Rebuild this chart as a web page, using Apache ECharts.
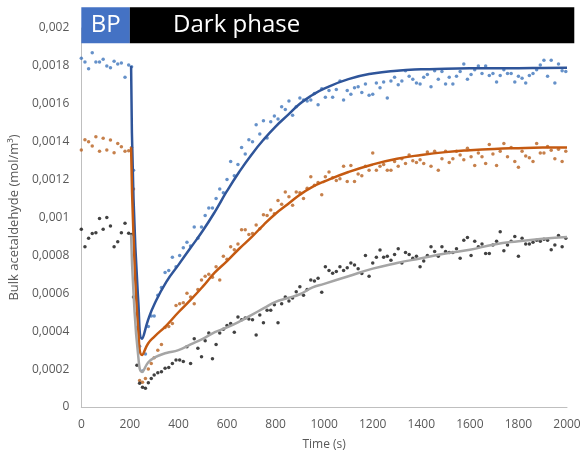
<!DOCTYPE html>
<html><head><meta charset="utf-8">
<script src="https://cdn.jsdelivr.net/npm/echarts@6/dist/echarts.min.js"></script>
<style>html,body{margin:0;padding:0;background:#fff}#c{width:584px;height:459px}</style>
</head><body><div id="c"></div>
<script>
// values in units of 1e-4 mol/m3
function range(a, b, s) { const r = []; for (let t = a; t <= b; t += s) r.push(t); return r; }
const baseTimes = range(0, 195, 15);
const dropTimes = [207, 215, 229, 240, 252, 264, 276, 288];
const darkTimes = range(300, 1995, 15);
const sampleTimes = baseTimes.concat(dropTimes, darkTimes);

const blueBase = [18.4, 18.2, 17.85, 18.7, 18.2, 18.2, 18.35, 18.0, 17.9, 18.25, 18.1, 18.15, 17.4, 18.05];
const blueDrop = [17.95, 12.5, 4.2, 3.2, 1.9, 2.8, 4.25, 4.8];
const blueDark = [
  4.8, 5.9, 6.3, 7.1, 7.2, 7.9, 7.4, 8.0, 8.4, 8.7,
  8.5, 9.5, 8.9, 9.5, 10.1, 10.5, 10.5, 11.0, 11.5, 11.3,
  12.0, 12.95, 12.2, 12.8, 13.7, 13.35, 14.1, 14.0, 14.9, 14.4,
  15.1, 14.2, 15.05, 15.35, 15.2, 15.85, 15.7, 16.15, 15.4, 15.85,
  16.3, 16.2, 16.15, 16.2, 16.55, 15.95, 16.8, 16.35, 16.7, 16.35,
  16.75, 17.2, 16.2, 16.7, 16.5, 16.85, 16.9, 16.6, 17.05, 16.45,
  16.5, 17.1, 16.85, 17.15, 16.3, 17.2, 17.4, 17.0, 17.2, 17.75,
  17.45, 17.3, 17.1, 17.05, 17.4, 17.55, 16.9, 17.75, 17.3, 17.7,
  17.05, 17.4, 17.05, 17.45, 17.7, 18.1, 17.3, 17.55, 17.8, 18.0,
  17.6, 18.0, 17.5, 17.6, 17.15, 17.5, 17.8, 17.6, 17.6, 17.15,
  17.45, 17.35, 17.1, 17.5, 17.6, 17.8, 18.05, 18.3, 17.45, 18.3,
  17.1, 18.1, 17.75, 17.7
];

const orangeBase = [13.56, 14.1, 14.0, 13.77, 14.26, 13.5, 14.18, 13.56, 14.09, 13.42, 13.91, 13.74, 13.5, 13.52];
const orangeDrop = [13.7, 11.5, 4.95, 1.4, 1.3, 1.5, 2.0, 2.3];
const orangeDark = [
  2.6, 3.0, 3.3, 4.2, 4.25, 4.4, 5.35, 5.45, 5.5, 6.0,
  5.8, 5.45, 6.2, 6.7, 6.9, 7.0, 6.85, 7.4, 6.7, 7.95,
  7.8, 8.45, 8.3, 8.6, 9.35, 9.35, 9.1, 9.15, 9.6, 9.4,
  10.15, 10.1, 10.4, 10.2, 10.9, 10.7, 11.35, 11.1, 10.65, 11.35,
  11.3, 11.0, 11.55, 12.15, 11.7, 11.85, 11.2, 12.15, 12.4, 12.1,
  11.95, 12.05, 12.7, 11.9, 12.75, 11.9, 12.3, 12.2, 12.7, 12.5,
  13.4, 12.5, 12.7, 12.8, 12.5, 12.5, 12.95, 12.7, 13.1, 12.85,
  13.3, 13.0, 12.9, 13.05, 12.85, 13.45, 12.7, 13.5, 12.5, 13.1,
  13.5, 12.9, 13.1, 13.5, 13.3, 13.05, 13.65, 13.2, 12.75, 13.4,
  13.2, 12.85, 13.85, 13.35, 12.75, 13.5, 13.9, 13.2, 13.7, 12.95,
  12.65, 13.5, 13.25, 13.15, 12.95, 13.9, 13.4, 13.4, 13.75, 13.55,
  13.1, 13.6, 12.95, 13.5
];

const blackBase = [9.38, 8.46, 8.9, 9.15, 9.2, 9.95, 9.38, 10.0, 9.55, 8.45, 8.72, 9.2, 9.7, 9.17];
const blackDrop = [9.1, 5.8, 2.2, 1.25, 1.04, 0.99, 1.28, 1.51];
const blackDark = [
  1.69, 1.81, 1.86, 2.04, 2.09, 2.3, 2.48, 2.48, 2.4, 3.18,
  2.3, 3.6, 3.1, 2.65, 3.5, 3.9, 2.55, 3.3, 3.9, 4.1,
  4.3, 4.4, 3.95, 4.75, 4.6, 4.7, 4.65, 4.6, 3.8, 4.85,
  4.45, 5.1, 5.1, 5.4, 4.45, 5.45, 5.8, 5.6, 5.75, 6.08,
  6.35, 5.9, 6.2, 6.7, 6.65, 6.8, 6.05, 7.4, 7.2, 7.06,
  7.15, 7.4, 7.2, 7.35, 7.6, 7.5, 7.3, 7.05, 8.0, 6.9,
  7.6, 7.9, 8.28, 7.9, 7.95, 7.75, 8.05, 8.35, 7.6, 8.15,
  8.05, 7.85, 7.95, 7.4, 7.7, 8.0, 8.45, 8.2, 7.95, 8.45,
  8.2, 8.15, 8.15, 8.35, 7.85, 8.8, 8.95, 8.0, 8.75, 8.45,
  8.6, 8.1, 8.1, 8.55, 8.75, 9.25, 8.25, 8.55, 8.75, 9.0,
  7.95, 8.9, 8.6, 8.6, 8.7, 8.8, 8.75, 8.85, 8.8, 8.3,
  8.55, 9.05, 8.45, 8.9
];

const fitTimes = [205, 215, 235, 250, 275, 300, 350, 400, 450, 500, 550, 600, 650, 700, 750, 800, 850, 900, 950, 1000, 1100, 1200, 1300, 1400, 1500, 1600, 1700, 1800, 1900, 2000];
const blueFit   = [18.0, 11.0, 5.5, 3.6, 4.6, 5.4, 6.6, 7.5, 8.4, 9.3, 10.3, 11.4, 12.4, 13.3, 14.1, 14.8, 15.4, 16.0, 16.45, 16.8, 17.3, 17.6, 17.75, 17.82, 17.85, 17.87, 17.88, 17.88, 17.89, 17.9];
const orangeFit = [13.7, 9.0, 4.0, 2.75, 3.35, 3.7, 4.3, 5.0, 5.65, 6.35, 7.1, 7.7, 8.35, 8.95, 9.6, 10.2, 10.7, 11.2, 11.6, 11.9, 12.4, 12.8, 13.1, 13.3, 13.45, 13.55, 13.62, 13.66, 13.69, 13.7];
const grayFit   = [9.1, 6.0, 2.6, 1.85, 2.35, 2.6, 2.85, 3.0, 3.3, 3.6, 3.95, 4.2, 4.5, 4.85, 5.2, 5.55, 5.75, 5.95, 6.3, 6.5, 6.9, 7.3, 7.6, 7.85, 8.1, 8.3, 8.58, 8.75, 8.88, 8.97];

const yTickLabels = ['0', '0,0002', '0,0004', '0,0006', '0,0008', '0,001', '0,0012', '0,0014', '0,0016', '0,0018', '0,002'];
const xTickLabels = ['0', '200', '400', '600', '800', '1000', '1200', '1400', '1600', '1800', '2000'];

const headerX = [0, 200, 2030];
const headerY = [19.2, 21.1];
const headerTexts = ['BP', 'Dark phase'];
const darkTextX = 378;

function zip(t, v) { return v.map((y, i) => [t[i], y]); }
const blueDots = zip(sampleTimes, blueBase.concat(blueDrop, blueDark));
const orangeDots = zip(sampleTimes, orangeBase.concat(orangeDrop, orangeDark));
const blackDots = zip(sampleTimes, blackBase.concat(blackDrop, blackDark));

const FONT = 'Open Sans';
const chart = echarts.init(document.getElementById('c'), null, { renderer: 'canvas' });
chart.setOption({
  animation: false,
  backgroundColor: '#fff',
  grid: { left: 81, right: 17, top: 28, bottom: 52 },
  xAxis: {
    type: 'value', min: 0, max: 2000, interval: 200,
    name: 'Time (s)', nameLocation: 'middle', nameGap: 32,
    nameTextStyle: { color: '#595959', fontSize: 12, fontFamily: FONT },
    axisLine: { lineStyle: { color: '#bfbfbf', width: 1 } },
    axisTick: { show: false }, splitLine: { show: false },
    axisLabel: { color: '#595959', fontSize: 12, fontFamily: FONT, margin: 12,
      formatter: v => xTickLabels[Math.round(v / 200)] }
  },
  yAxis: {
    type: 'value', min: 0, max: 20, interval: 2,
    name: 'Bulk acetaldehyde (mol/m³)', nameLocation: 'middle', nameGap: 55,
    nameTextStyle: { color: '#595959', fontSize: 13, fontFamily: FONT },
    axisLine: { show: true, lineStyle: { color: '#bfbfbf', width: 1 } },
    axisTick: { show: false }, splitLine: { show: false },
    axisLabel: { color: '#595959', fontSize: 12, fontFamily: FONT, margin: 12,
      formatter: v => yTickLabels[Math.round(v / 2)] }
  },
  series: [
    { type: 'scatter', data: blueDots, symbolSize: 3.5, itemStyle: { color: '#3F75BC' }, z: 2 },
    { type: 'scatter', data: orangeDots, symbolSize: 3.5, itemStyle: { color: '#B8601E' }, z: 2 },
    { type: 'scatter', data: blackDots, symbolSize: 3.5, itemStyle: { color: '#111' }, z: 2 },
    { type: 'line', data: zip(fitTimes, blueFit), showSymbol: false, smooth: 0.5, lineStyle: { color: '#2F559A', width: 2.5 }, z: 3 },
    { type: 'line', data: zip(fitTimes, orangeFit), showSymbol: false, smooth: 0.5, lineStyle: { color: '#C55A11', width: 2.5 }, z: 3 },
    { type: 'line', data: zip(fitTimes, grayFit), showSymbol: false, smooth: 0.5, lineStyle: { color: '#A5A5A5', width: 2.5 }, z: 3 }
  ]
});

const pA = chart.convertToPixel({ gridIndex: 0 }, [headerX[0], headerY[1]]);
const pB = chart.convertToPixel({ gridIndex: 0 }, [headerX[1], headerY[0]]);
const pC = chart.convertToPixel({ gridIndex: 0 }, [headerX[2], headerY[0]]);
const pT = chart.convertToPixel({ gridIndex: 0 }, [darkTextX, headerY[0]]);
const midY = (pA[1] + pB[1]) / 2;
chart.setOption({
  graphic: [
    { type: 'rect', shape: { x: pA[0], y: pA[1], width: pB[0] - pA[0], height: pB[1] - pA[1] }, style: { fill: '#4472C4' }, z: 10 },
    { type: 'rect', shape: { x: pB[0], y: pA[1], width: pC[0] - pB[0], height: pB[1] - pA[1] }, style: { fill: '#000' }, z: 10 },
    { type: 'text', x: (pA[0] + pB[0]) / 2, y: midY, style: { text: headerTexts[0], fill: '#fff', font: '24px "Open Sans"', align: 'center', verticalAlign: 'middle' }, z: 11 },
    { type: 'text', x: pT[0], y: midY, style: { text: headerTexts[1], fill: '#fff', font: '24px "Open Sans"', align: 'left', verticalAlign: 'middle' }, z: 11 }
  ]
});
</script></body></html>
